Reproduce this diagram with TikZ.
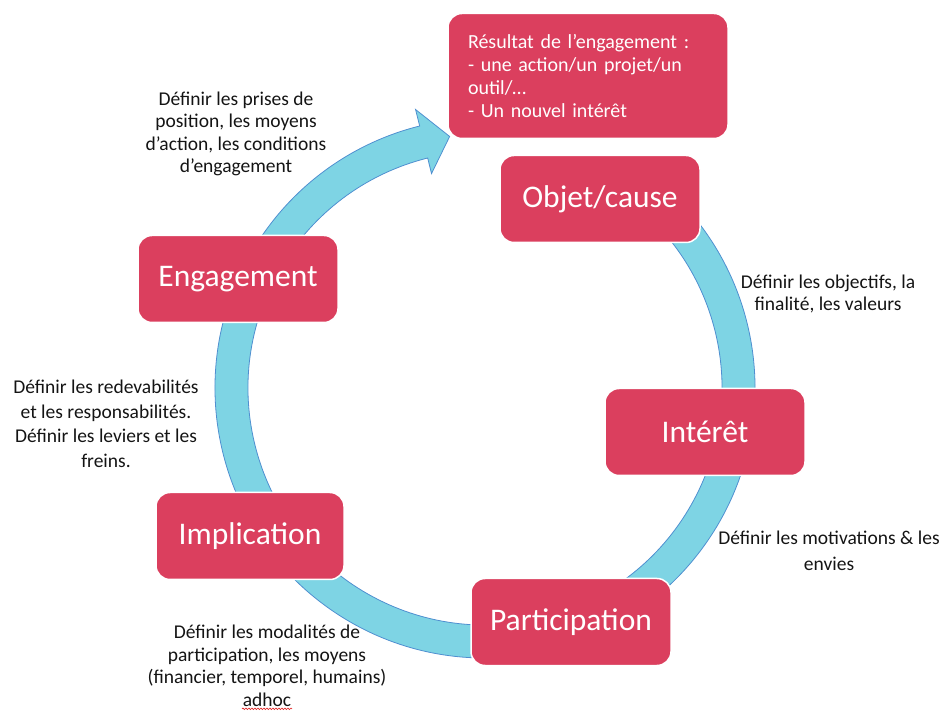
\documentclass[tikz,border=0pt]{standalone}
\usepackage{fontspec}
\setmainfont{Carlito}
\usetikzlibrary{positioning,calc,decorations.pathmorphing}
\definecolor{boxred}{HTML}{DB3F5E}
\definecolor{bandcyan}{HTML}{7ED4E4}
\definecolor{bandedge}{HTML}{4F8FD0}
\definecolor{notegray}{HTML}{141414}
\definecolor{spellred}{HTML}{E02020}

\begin{document}
\begin{tikzpicture}[x=1pt, y=1pt,
  stage/.style={rectangle, rounded corners=14pt, fill=boxred, draw=white, line width=1.5pt,
    text=white, font=\fontsize{31.5}{36}\selectfont, minimum width=200pt, minimum height=87pt, inner sep=0pt},
  note/.style={align=center, text=notegray, inner sep=0pt}]
  \useasboundingbox (0,0) rectangle (947,720);
  \clip (0,0) rectangle (947,720);

  % Cycle band
  \begin{scope}[shift={(485,332)}]
    \draw[fill=bandcyan, draw=bandedge, line width=0.8pt]
      (55:270) arc[start angle=55, end angle=-256, radius=270]
      -- (104:287) -- (98:254) -- (104:221) -- (104:237)
      arc[start angle=-256, end angle=55, radius=237] -- cycle;
  \end{scope}

  % Stages
  \node[stage] (objet) at (600,521) {Objet/cause};
  \node[stage] (engagement) at (238,441) {Engagement};
  \node[stage] (interet) at (705,288) {Intérêt};
  \node[stage, minimum width=188pt] (implication) at (250,184) {Implication};
  \node[stage] (participation) at (571,98) {Participation};
  \node[stage, minimum width=280pt, minimum height=125pt, text width=240pt, align=left,
    font=\fontsize{20}{23}\selectfont] (resultat) at (588,644)
    {Résultat de l’engagement :\\- une action/un projet/un\\outil/…\\- Un nouvel intérêt};

  % Notes
  \node[note, font=\fontsize{19.5}{22.5}\selectfont] (tengagement) at (236,586)
    {Définir les prises de\\position, les moyens\\d’action, les conditions\\d’engagement};
  \node[note, font=\fontsize{19.5}{22.5}\selectfont] (tobjet) at (828,426)
    {Définir les objectifs, la\\finalité, les valeurs};
  \node[note, font=\fontsize{19.5}{24.5}\selectfont] (timplication) at (106,296)
    {Définir les redevabilités\\et les responsabilités.\\Définir les leviers et les\\freins.};
  \node[note, font=\fontsize{19.5}{26}\selectfont] (tinteret) at (829,169)
    {Définir les motivations \& les\\envies};
  \node[note, font=\fontsize{19.5}{22.5}\selectfont] (tparticipation) at (267,54)
    {Définir les modalités de\\participation, les moyens\\(financier, temporel, humains)\\adhoc};
  \draw[spellred, line width=0.6pt, decorate, decoration={snake, amplitude=0.8pt, segment length=3pt}]
    ($(tparticipation.south)+(-25,-2)$) -- ($(tparticipation.south)+(25,-2)$);
\end{tikzpicture}
\end{document}
